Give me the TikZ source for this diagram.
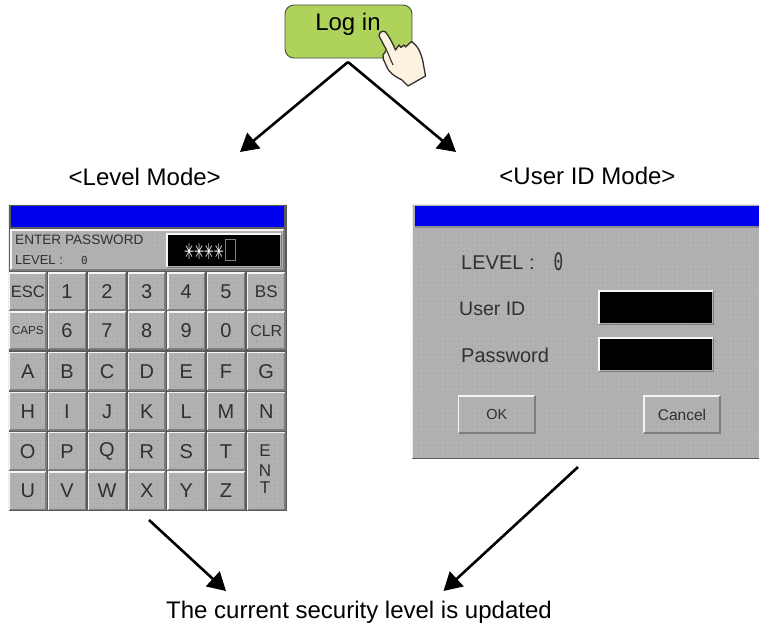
\documentclass[tikz,border=0pt]{standalone}
\usepackage{graphicx}
\usepackage{fontspec}
\setmainfont{Liberation Sans}
\newfontfamily\monof{DejaVu Sans Mono}
\newfontfamily\symf{DejaVu Sans}
\usetikzlibrary{arrows.meta,patterns.meta}
\definecolor{btngreen}{HTML}{AFD25A}
\definecolor{btnedge}{HTML}{4A4A4A}
\definecolor{handfill}{HTML}{FDF1E0}
\definecolor{hmiblue}{HTML}{0000F0}
\definecolor{hmigray}{HTML}{B2B0B2}
\definecolor{hmidark}{HTML}{5C5C5C}
\definecolor{hmitext}{HTML}{303030}
\definecolor{dotgray}{HTML}{8E8C8E}
\tikzset{
  flow/.style={line width=2.6pt,black,-{Triangle[length=18pt,width=20pt]}},
  lbl/.style={font=\fontsize{24}{26}\selectfont,inner sep=0pt,black,anchor=base},
  dotted fill/.style={fill=hmigray,postaction={pattern={Dots[distance=4.5pt,radius=.35pt]},pattern color=dotgray}},
  keycapbox/.style={dotted fill,inner sep=0pt,text=hmitext,align=center},
  hlabel/.style={inner sep=0pt,text=hmitext,anchor=west},
  bevelhi/.style={draw=white!92!gray,line width=1.4pt},
  bevello/.style={draw=hmidark!80!white,line width=1.4pt},
  entletter/.style={inner sep=0pt,text=hmitext,font=\fontsize{17}{17}\selectfont},
}
% name, x0, y0, x1, y1, font size, text
\newcommand{\keycap}[7]{%
  \node[keycapbox,minimum width={#4-#2},minimum height={#5-#3},font=\fontsize{#6}{#6}\selectfont] (#1) at ({(#2+#4)/2},{(#3+#5)/2}) {#7};
  \draw[bevelhi] (#2,#5) -- (#2,#3) -- (#4,#3);
  \draw[bevello] (#2,#5) -- (#4,#5) -- (#4,#3);
}
\newcommand{\blackbox}[5]{%
  \node[fill=black,inner sep=0pt,minimum width={#4-#2},minimum height={#5-#3}] (#1) at ({(#2+#4)/2},{(#3+#5)/2}) {};
  \draw[bevelhi] (#2-1,#5+1) -- (#2-1,#3-1) -- (#4+1,#3-1);
  \draw[bevello] (#2-1,#5+1.5) -- (#4+1.5,#5+1.5) -- (#4+1.5,#3-1);
}
\begin{document}
\begin{tikzpicture}[x=1pt,y=-1pt]
\useasboundingbox (0,0) rectangle (759,625);
\fill[white] (0,0) rectangle (759,625);

% Log in button
\node[draw=btnedge,line width=.9pt,fill=btngreen,rounded corners=9pt,minimum width=127pt,minimum height=53pt,inner sep=0pt] (login) at (348.5,31.5) {};
\node[lbl] (logintext) at (348,30) {Log in};
% Hand
\draw[line width=1.3pt,draw=hmitext,fill=handfill,line join=round]
 (379,36) .. controls (379,32) and (383,30) .. (385.5,32) .. controls (389,36) and (393,44) .. (395.5,50)
 -- (399,45) -- (401,47.5) -- (404,45) -- (405.5,47) -- (411.5,41.5)
 .. controls (417,45) and (421,52) .. (423,62) -- (425.5,76) -- (408,86) -- (402,80)
 .. controls (394,76) and (388,72) .. (386,65) .. controls (384,60) and (382,58) .. (383,55)
 -- (386.5,50) -- cycle;
\draw[line width=1.1pt,draw=hmitext] (387,51) -- (393,65);

% connectors
\coordinate (apex) at (348,62);
\coordinate (leftend) at (240,152);
\coordinate (rightend) at (456,152);
\draw[flow] (apex) -- (leftend);
\draw[flow] (apex) -- (rightend);

% labels
\node[lbl] (levelmode) at (144.7,185) {<Level Mode>};
\node[lbl] (usermode) at (587.5,184.5) {<User ID Mode>};
\node[lbl] (result) at (359,618) {The current security level is updated};

% Level panel
\node[fill=hmidark,inner sep=0pt,minimum width=279pt,minimum height=307pt] (levelpanel) at (147.5,357.5) {};
\draw[white!85!gray,line width=1pt] (8,511) -- (8,204) -- (287,204);
\node[fill=hmiblue,inner sep=0pt,minimum width=273pt,minimum height=21pt] (levelbar) at (147,216) {};
\keycap{header}{11}{230}{284}{270}{8}{}
\blackbox{display}{168}{235}{280}{266}
\node[hlabel,font=\fontsize{13.6}{13.6}\selectfont] (enterpw) at (15,239.5) {ENTER PASSWORD};
\node[hlabel,font=\fontsize{13}{13}\selectfont] (levellbl) at (15,260) {LEVEL :};
\node[hlabel,font=\fontsize{11}{11}\monof] (levelval) at (81,260.5) {0};
\node[inner sep=0pt,text=white,font=\fontsize{12}{12}\symf] (stars) at (204,251.5) {\scalebox{1}[1.8]{✳\kern-.1pt✳\kern-.1pt✳\kern-.1pt✳}};
\node[draw=gray,line width=.8pt,inner sep=0pt,minimum width=10.5pt,minimum height=21pt] (cursor) at (230.5,250) {};

\keycap{kesc}{9.5}{273}{46}{310}{16.5}{ESC}
\keycap{k1}{48.5}{273}{85.5}{310}{20}{1}
\keycap{k2}{88.5}{273}{125.5}{310}{20}{2}
\keycap{k3}{128.5}{273}{165}{310}{20}{3}
\keycap{k4}{168}{273}{204.5}{310}{20}{4}
\keycap{k5}{207.5}{273}{244.5}{310}{20}{5}
\keycap{kbs}{247.5}{273}{285}{310}{17}{BS}
\keycap{kcaps}{9.5}{312}{46}{349}{11.7}{CAPS}
\keycap{k6}{48.5}{312}{85.5}{349}{20}{6}
\keycap{k7}{88.5}{312}{125.5}{349}{20}{7}
\keycap{k8}{128.5}{312}{165}{349}{20}{8}
\keycap{k9}{168}{312}{204.5}{349}{20}{9}
\keycap{k0}{207.5}{312}{244.5}{349}{20}{0}
\keycap{kclr}{247.5}{312}{285}{349}{16}{CLR}
\keycap{ka}{9.5}{352.5}{46}{390}{20}{A}
\keycap{kb}{48.5}{352.5}{85.5}{390}{20}{B}
\keycap{kc}{88.5}{352.5}{125.5}{390}{20}{C}
\keycap{kd}{128.5}{352.5}{165}{390}{20}{D}
\keycap{ke}{168}{352.5}{204.5}{390}{20}{E}
\keycap{kf}{207.5}{352.5}{244.5}{390}{20}{F}
\keycap{kg}{247.5}{352.5}{285}{390}{20}{G}
\keycap{kh}{9.5}{392.5}{46}{430}{20}{H}
\keycap{ki}{48.5}{392.5}{85.5}{430}{20}{I}
\keycap{kj}{88.5}{392.5}{125.5}{430}{20}{J}
\keycap{kk}{128.5}{392.5}{165}{430}{20}{K}
\keycap{kl}{168}{392.5}{204.5}{430}{20}{L}
\keycap{km}{207.5}{392.5}{244.5}{430}{20}{M}
\keycap{kn}{247.5}{392.5}{285}{430}{20}{N}
\keycap{ko}{9.5}{432.5}{46}{470}{20}{O}
\keycap{kp}{48.5}{432.5}{85.5}{470}{20}{P}
\keycap{kq}{88.5}{432.5}{125.5}{470}{20}{Q}
\keycap{kr}{128.5}{432.5}{165}{470}{20}{R}
\keycap{ks}{168}{432.5}{204.5}{470}{20}{S}
\keycap{kt}{207.5}{432.5}{244.5}{470}{20}{T}
\keycap{ku}{9.5}{472}{46}{509.5}{20}{U}
\keycap{kv}{48.5}{472}{85.5}{509.5}{20}{V}
\keycap{kw}{88.5}{472}{125.5}{509.5}{20}{W}
\keycap{kx}{128.5}{472}{165}{509.5}{20}{X}
\keycap{ky}{168}{472}{204.5}{509.5}{20}{Y}
\keycap{kz}{207.5}{472}{244.5}{509.5}{20}{Z}
\keycap{kent}{247.5}{432.5}{285}{509.5}{8}{}
\node[entletter] (ente) at (265,451) {E};
\node[entletter] (entn) at (265,470.5) {N};
\node[entletter] (entt) at (265,488) {T};

% User ID panel
\node[dotted fill,inner sep=0pt,minimum width=347pt,minimum height=254pt] (userpanel) at (585.5,331) {};
\draw[white!85!gray,line width=1pt] (412,458) -- (412,204) -- (759,204);
\draw[hmidark,line width=1.2pt] (412,458.5) -- (759,458.5);
\node[fill=hmiblue,inner sep=0pt,minimum width=344pt,minimum height=21pt] (userbar) at (587,216) {};
\draw[hmidark!70!white,line width=1.2pt] (415,227) -- (759,227);
\node[hlabel,font=\fontsize{20}{20}\selectfont] (ulevel) at (461,262.5) {LEVEL :};
\node[hlabel,font=\fontsize{16}{16}\monof] (ulevelval) at (553.5,262) {\scalebox{1}[1.5]{0}};
\node[hlabel,font=\fontsize{19.5}{19.5}\selectfont] (uid) at (459,309) {User ID};
\node[hlabel,font=\fontsize{20}{20}\selectfont] (upw) at (461,355) {Password};
\blackbox{uidbox}{600}{292}{712}{323}
\blackbox{upwbox}{600}{339}{712}{370}
\keycap{okbtn}{458.5}{396}{535}{433}{14.5}{OK}
\keycap{cancelbtn}{644}{396}{720}{433}{15.5}{Cancel}

% lower connectors
\coordinate (levelout) at (149,520);
\coordinate (levelin) at (226,591);
\coordinate (userout) at (578,467);
\coordinate (userin) at (443.5,591);
\draw[flow] (levelout) -- (levelin);
\draw[flow] (userout) -- (userin);
\end{tikzpicture}
\end{document}
